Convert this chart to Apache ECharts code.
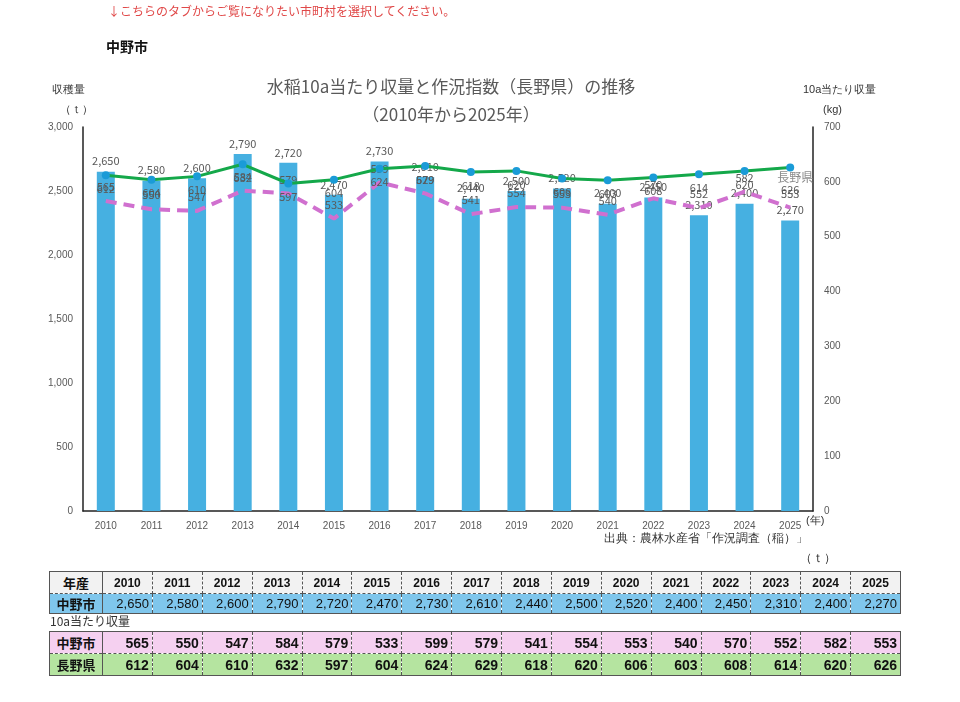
<!DOCTYPE html>
<html>
<head>
<meta charset="utf-8">
<script src="https://cdn.jsdelivr.net/npm/echarts@6/dist/echarts.min.js"></script>
<style>
html,body{margin:0;padding:0;background:#fff;width:960px;height:702px;overflow:hidden;font-family:"Noto Sans CJK JP","Noto Sans",sans-serif;}
#chart{position:absolute;left:0;top:0;width:960px;height:702px;}
.t{position:absolute;white-space:nowrap;}
table{position:absolute;border-collapse:collapse;table-layout:fixed;font-family:"Liberation Sans","Noto Sans CJK JP",sans-serif;}
td{padding:0 3px;font-size:13px;font-weight:bold;border:1px dashed #555;color:#111;line-height:16px;vertical-align:middle;box-sizing:border-box;overflow:hidden;white-space:nowrap;}
td.h{text-align:center;font-family:"Noto Sans CJK JP",sans-serif;font-size:13px;border-right:1.5px solid #555;}
</style>
</head>
<body>
<div id="chart"></div>
<div class="t" style="left:108px;top:2px;font-size:12px;color:#e04848;">↓こちらのタブからご覧になりたい市町村を選択してください。</div>
<div class="t" style="left:106px;top:36px;font-size:14px;font-weight:bold;color:#111;">中野市</div>
<div id="tables"></div>
<script>
const years = ['2010','2011','2012','2013','2014','2015','2016','2017','2018','2019','2020','2021','2022','2023','2024','2025'];
const harvestNakano = [2650,2580,2600,2790,2720,2470,2730,2610,2440,2500,2520,2400,2450,2310,2400,2270];
const yieldNakano = [565,550,547,584,579,533,599,579,541,554,553,540,570,552,582,553];
const yieldNagano = [612,604,610,632,597,604,624,629,618,620,606,603,608,614,620,626];
const leftTicks = [0,500,1000,1500,2000,2500,3000];
const rightTicks = [0,100,200,300,400,500,600,700];

const fmt = v => v.toLocaleString('en-US');
const chart = echarts.init(document.getElementById('chart'), null, {renderer:'canvas'});
const grey = '#595959';
const naganoData = yieldNagano.map((v,i)=> i===yieldNagano.length-1 ? {value:v,label:{position:'bottom',distance:0,formatter:'{n|長野県}\n{v|626}',rich:{n:{fontSize:12,color:'#8c8c8c',lineHeight:12,padding:[0,0,0,10]},v:{fontSize:11,color:grey,lineHeight:12}}}} : v);
chart.setOption({
  animation:false,
  textStyle:{fontFamily:'"Noto Sans CJK JP","Noto Sans",sans-serif'},
  title:{text:'水稲10a当たり収量と作況指数（長野県）の推移\n（2010年から2025年）',left:446,top:68,textAlign:'center',textStyle:{fontSize:17,fontWeight:'normal',color:grey,lineHeight:28}},
  grid:{left:83,right:147,top:127,bottom:191},
  xAxis:{type:'category',data:years,axisLine:{lineStyle:{color:'#222',width:1.5}},axisTick:{show:false},axisLabel:{color:grey,fontSize:10,margin:10,fontFamily:'"Liberation Sans",sans-serif'}},
  yAxis:[
    {type:'value',min:leftTicks[0],max:leftTicks[leftTicks.length-1],interval:500,axisLine:{show:true,lineStyle:{color:'#222',width:1.5}},axisTick:{show:false},splitLine:{show:false},axisLabel:{color:grey,fontSize:10,margin:10,formatter:v=>fmt(v),fontFamily:'"Liberation Sans",sans-serif'}},
    {type:'value',min:rightTicks[0],max:rightTicks[rightTicks.length-1],interval:100,position:'right',axisLine:{show:true,lineStyle:{color:'#222',width:1.5}},axisTick:{show:false},splitLine:{show:false},axisLabel:{color:grey,fontSize:10,margin:11,fontFamily:'"Liberation Sans",sans-serif'}}
  ],
  series:[
    {name:'中野市収穫量',type:'bar',data:harvestNakano,barWidth:18,itemStyle:{color:'#46b0e1'},label:{show:true,position:'top',distance:5,color:grey,fontSize:11,formatter:p=>fmt(p.value)},labelLayout:{hideOverlap:false},z:1},
    {name:'中野市',type:'line',yAxisIndex:1,data:yieldNakano,showSymbol:true,symbol:'circle',symbolSize:1,itemStyle:{color:'rgba(0,0,0,0)'},lineStyle:{color:'#d070cf',width:4,type:[11,7]},label:{show:true,position:'top',distance:8,color:grey,fontSize:11},labelLayout:{hideOverlap:false},z:2},
    {name:'長野県',type:'line',yAxisIndex:1,data:naganoData,symbol:'circle',symbolSize:8,itemStyle:{color:'#1a9bd7'},lineStyle:{color:'#14a84a',width:3},label:{show:true,position:'bottom',distance:4,color:grey,fontSize:11},labelLayout:{hideOverlap:false},z:3}
  ],
  graphic:[
    {type:'text',left:52,top:84,style:{text:'収穫量',fontSize:11,fill:'#333'}},
    {type:'text',left:60,top:104,style:{text:'（ｔ）',fontSize:11,fill:'#333'}},
    {type:'text',left:803,top:84,style:{text:'10a当たり収量',fontSize:11,fill:'#333'}},
    {type:'text',left:823,top:104,style:{text:'(kg)',fontSize:11,fill:'#333'}},
    {type:'text',left:806,top:515,style:{text:'(年)',fontSize:11,fill:'#333'}},
    {type:'text',left:604,top:533,style:{text:'出典：農林水産省「作況調査（稲）」',fontSize:12,fill:'#333'}},
    {type:'text',left:800,top:553,style:{text:'（ｔ）',fontSize:12,fill:'#333'}}
  ]
});

// tables
const wrap = document.getElementById('tables');
function makeTable(top, rows){
  const t = document.createElement('table');
  t.style.left='49px'; t.style.top=top+'px'; t.style.width='851px';
  t.style.border='1.5px solid #555';
  let cg='<colgroup><col style="width:53px">'+years.map(()=>'<col style="width:49.875px">').join('')+'</colgroup>';
  t.innerHTML = cg + rows.map(r=>'<tr style="background:'+r.bg+';height:'+r.h+'px">'+'<td class="h">'+r.head+'</td>'+r.cells.map(c=>'<td style="text-align:'+r.align+';font-weight:'+r.fw+';font-size:'+r.fs+'px">'+c+'</td>').join('')+'</tr>').join('');
  wrap.appendChild(t);
  return t;
}
makeTable(571,[
  {head:'年産',cells:years,bg:'#f2f2f2',align:'center',fw:'bold',fs:12,h:22},
  {head:'中野市',cells:harvestNakano.map(fmt),bg:'#7fc6ec',align:'right',fw:'normal',fs:13,h:20}
]);
const lbl = document.createElement('div');
lbl.className='t'; lbl.style.cssText='left:50px;top:612px;font-size:12px;color:#333;';
lbl.textContent='10a当たり収量';
wrap.appendChild(lbl);
makeTable(631,[
  {head:'中野市',cells:yieldNakano.map(String),bg:'#f5d0f0',align:'right',fw:'bold',fs:14,h:22},
  {head:'長野県',cells:yieldNagano.map(String),bg:'#b5e4a0',align:'right',fw:'bold',fs:14,h:22}
]);
</script>
</body>
</html>
